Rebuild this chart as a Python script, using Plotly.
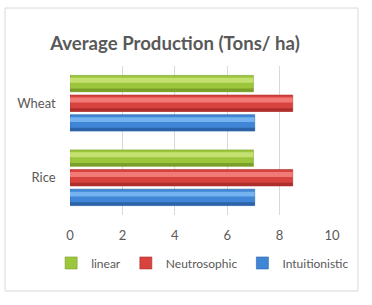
import plotly.graph_objects as go

categories = ["Rice", "Wheat"]
linear = [7.0, 7.0]
neutrosophic = [8.5, 8.5]
intuitionistic = [7.05, 7.05]
x_ticks = [0, 2, 4, 6, 8, 10]

BAR_W = 0.22
GAP = 0.0437
# name, values, base colour, light colour, dark colour, slot (0 = top)
series = [
    ("linear", linear, "#9cc63c", "#c3e070", "#7a9e2a", 0),
    ("Neutrosophic", neutrosophic, "#d9433f", "#f27a76", "#ad2e2b", 1),
    ("Intuitionistic", intuitionistic, "#3f86d6", "#74b2f0", "#2c62a8", 2),
]

fig = go.Figure()
group_half = (3 * BAR_W + 2 * GAP) / 2
offsets = {}
for name, vals, base, light, dark, slot in series:
    off = group_half - BAR_W - slot * (BAR_W + GAP)
    offsets[name] = off
    fig.add_trace(go.Bar(
        y=categories, x=vals, name=name, orientation="h",
        width=BAR_W, offset=off,
        marker=dict(color=base, line=dict(color=dark, width=0.6)),
    ))

# shading bands (gradient imitation), drawn from the same data
for name, vals, base, light, dark, slot in series:
    off = offsets[name]
    for lo, hi, col in [(0.0, 0.2, dark), (0.55, 0.85, light)]:
        fig.add_trace(go.Bar(
            y=categories, x=vals, orientation="h", showlegend=False,
            width=BAR_W * (hi - lo), offset=off + BAR_W * lo,
            marker=dict(color=col, line=dict(width=0)), hoverinfo="skip",
        ))

fig.update_layout(
    width=372, height=305,
    margin=dict(l=70, r=40, t=66, b=90),
    paper_bgcolor="white", plot_bgcolor="white",
    barmode="overlay",
    font=dict(family="Lato, Open Sans, sans-serif", color="#595959", size=13),
    title=dict(text="<b>Average Production (Tons/ ha)</b>", x=175 / 372, xanchor="center",
               xref="container", y=1 - 43 / 305, yanchor="middle",
               font=dict(size=18.6, color="#595959")),
    showlegend=True,
    legend=dict(orientation="h", traceorder="normal", x=-0.072, xanchor="left",
                y=-0.322, yanchor="middle", font=dict(size=12, color="#595959"),
                itemwidth=30),
    xaxis=dict(range=[0, 10], tickvals=x_ticks, showgrid=True, gridcolor="#d9d9d9",
               zeroline=False, showline=False, ticks="", tickfont=dict(size=13),
               ticklabelstandoff=11, automargin=False),
    yaxis=dict(range=[-0.5, 1.5], showgrid=False, showline=False, ticks="",
               ticksuffix="    ", tickfont=dict(size=13), automargin=False),
    shapes=[dict(type="rect", xref="paper", yref="paper",
                 x0=-0.248, x1=1.099, y0=-0.51, y1=1.389,
                 line=dict(color="#d9d9d9", width=1), fillcolor="rgba(0,0,0,0)",
                 layer="below")],
)
fig.write_html("out.html", config={"displayModeBar": False},
               post_script="document.body.style.margin='0';")
